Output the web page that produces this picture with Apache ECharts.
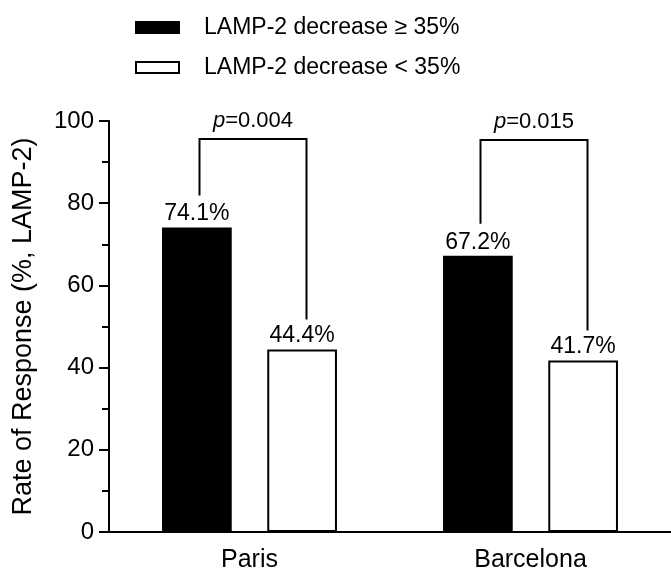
<!DOCTYPE html>
<html><head><meta charset="utf-8">
<script src="https://cdn.jsdelivr.net/npm/echarts@6/dist/echarts.min.js"></script>
<style>html,body{margin:0;padding:0;background:#fff}#c{width:671px;height:574px}</style>
</head><body><div id="c"></div>
<script>
const categories = ['Paris', 'Barcelona'];
const seriesNames = ['LAMP-2 decrease \u2265 35%', 'LAMP-2 decrease < 35%'];
const highDecrease = [74.1, 67.2];
const lowDecrease = [44.4, 41.7];
const pValues = ['0.004', '0.015'];
const bracketTop = [95.6, 95.4];
const yAxisName = 'Rate of Response (%, LAMP-2)';

const FONT = '"Liberation Sans", Arial, sans-serif';

const chart = echarts.init(document.getElementById('c'), null, {renderer: 'canvas'});

const labelOpt = {
  show: true, position: 'top', distance: 2, color: '#000',
  fontFamily: FONT, fontSize: 23,
  formatter: p => p.value.toFixed(1) + '%'
};

chart.setOption({
  animation: false,
  backgroundColor: '#fff',
  textStyle: {fontFamily: FONT, color: '#000'},
  legend: {
    data: seriesNames,
    orient: 'vertical',
    icon: 'rect',
    left: 130, top: 11,
    itemWidth: 43, itemHeight: 11, itemGap: 17,
    textStyle: {fontFamily: FONT, fontSize: 23, color: '#000', padding: [0, 0, 0, 20]},
    selectedMode: false
  },
  grid: {left: 109, right: -2, top: 121, bottom: 42, containLabel: false},
  xAxis: {
    type: 'category', data: categories,
    axisLine: {lineStyle: {color: '#000', width: 2}},
    axisTick: {alignWithLabel: true, length: 11, lineStyle: {color: '#000', width: 2}},
    axisLabel: {color: '#000', fontFamily: FONT, fontSize: 25, margin: 16}
  },
  yAxis: {
    type: 'value', min: 0, max: 100, interval: 20,
    name: yAxisName, nameLocation: 'middle', nameGap: 72,
    nameTextStyle: {color: '#000', fontFamily: FONT, fontSize: 27},
    axisLine: {show: true, lineStyle: {color: '#000', width: 2}},
    axisTick: {show: true, length: 10, lineStyle: {color: '#000', width: 2}},
    minorTick: {show: true, splitNumber: 2, length: 7, lineStyle: {color: '#000', width: 2}},
    splitLine: {show: false},
    axisLabel: {color: '#000', fontFamily: FONT, fontSize: 24, margin: 15}
  },
  series: [
    {
      name: seriesNames[0], type: 'bar', data: highDecrease,
      barWidth: '24.8%', barGap: '51%',
      itemStyle: {color: '#000', borderColor: '#000', borderWidth: 2},
      label: labelOpt
    },
    {
      name: seriesNames[1], type: 'bar', data: lowDecrease,
      barWidth: '24.8%', barGap: '51%',
      itemStyle: {color: '#fff', borderColor: '#000', borderWidth: 2},
      label: labelOpt
    },
    {
      name: 'brackets', type: 'custom', silent: true, z: 5,
      data: categories.map((c, i) => [i, bracketTop[i], highDecrease[i], lowDecrease[i]]),
      renderItem: function (params, api) {
        const i = api.value(0);
        const top = api.coord([i, api.value(1)]);
        const band = api.size([1, 0])[0];
        const off = band * 0.188;
        const xl = Math.round(top[0] - off) + 2.5, xr = Math.round(top[0] + off) + 4.5;
        const yt = Math.round(top[1]);
        const yl = api.coord([i, api.value(2)])[1] - 32;
        const yr = api.coord([i, api.value(3)])[1] - 30;
        return {
          type: 'group',
          children: [
            {type: 'polyline', shape: {points: [[xl, yl], [xl, yt], [xr, yt], [xr, yr]]},
             style: {stroke: '#000', lineWidth: 2, fill: null}},
            {type: 'text', x: (xl + xr) / 2, y: yt - 7,
             style: {
               text: '{i|p}=' + pValues[params.dataIndex],
               align: 'center', verticalAlign: 'bottom',
               fontFamily: FONT, fontSize: 22, fill: '#000',
               rich: {i: {fontStyle: 'italic', fontFamily: FONT, fontSize: 22, color: '#000'}}
             }}
          ]
        };
      }
    }
  ]
});
</script>
</body></html>
